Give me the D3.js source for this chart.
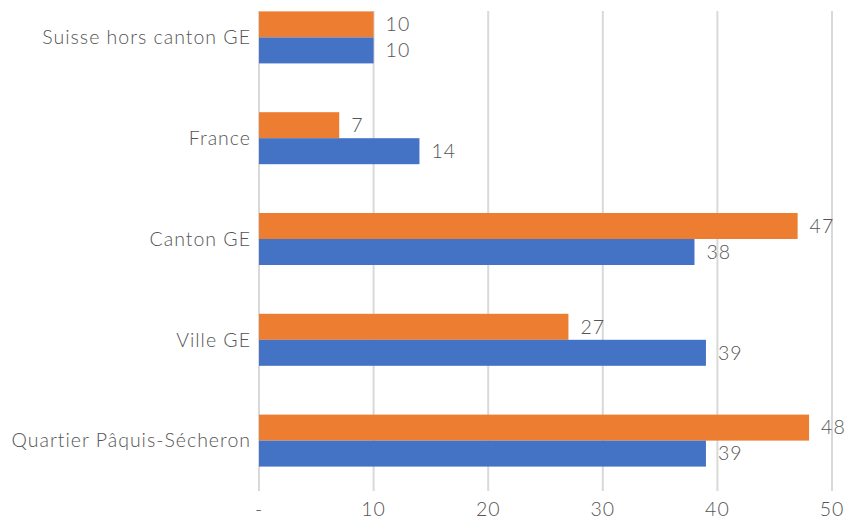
<!DOCTYPE html>
<html><head><meta charset="utf-8">
<script src="https://cdn.jsdelivr.net/npm/d3@7"></script>
<style>body{margin:0;background:#fff;} text{font-family:Lato,"Open Sans",sans-serif;fill:#555;font-weight:300;letter-spacing:1px;}</style>
</head><body>
<svg id="c" width="847" height="520"></svg>
<script>
const categories = ["Suisse hors canton GE","France","Canton GE","Ville GE","Quartier Pâquis-Sécheron"];
const seriesOrange = [10,7,47,27,48];
const seriesBlue = [10,14,38,39,39];
const ticks = [0,10,20,30,40,50];
const tickLabels = ["-","10","20","30","40","50"];

const svg = d3.select("#c");
const x = d3.scaleLinear().domain([0,50]).range([259,832]);
const y = d3.scaleBand().domain(categories).range([-13,491]);
const sub = d3.scaleBand().domain(["o","b"]).range([0,52]);
const gTop = 11, gBot = 491;
const fs = 19.5;

svg.append("g").selectAll("line").data(ticks).join("line")
  .attr("x1",d=>x(d)).attr("x2",d=>x(d)).attr("y1",gTop).attr("y2",gBot)
  .attr("stroke","#d9d9d9").attr("stroke-width",2);

const bandOff = (y.bandwidth()-52)/2;
const series = [{k:"o",v:seriesOrange,c:"#ED7D31"},{k:"b",v:seriesBlue,c:"#4472C4"}];
series.forEach(s=>{
  const g = svg.append("g");
  g.selectAll("rect").data(categories).join("rect")
    .attr("x",x(0)).attr("y",(d)=>y(d)+bandOff+sub(s.k))
    .attr("width",(d,i)=>x(s.v[i])-x(0)).attr("height",sub.bandwidth())
    .attr("fill",s.c);
  g.selectAll("text").data(categories).join("text")
    .attr("x",(d,i)=>x(s.v[i])+12).attr("y",(d)=>y(d)+bandOff+sub(s.k)+sub.bandwidth()/2)
    .attr("dy","0.35em").attr("font-size",fs).text((d,i)=>s.v[i]);
});

svg.append("g").selectAll("text").data(categories).join("text")
  .attr("x",251).attr("y",d=>y(d)+y.bandwidth()/2).attr("dy","0.35em")
  .attr("text-anchor","end").attr("font-size",fs).text(d=>d);

svg.append("g").selectAll("text").data(ticks).join("text")
  .attr("x",d=>x(d)).attr("y",509).attr("dy","0.35em")
  .attr("text-anchor","middle").attr("font-size",fs).text((d,i)=>tickLabels[i]);
</script>
</body></html>
